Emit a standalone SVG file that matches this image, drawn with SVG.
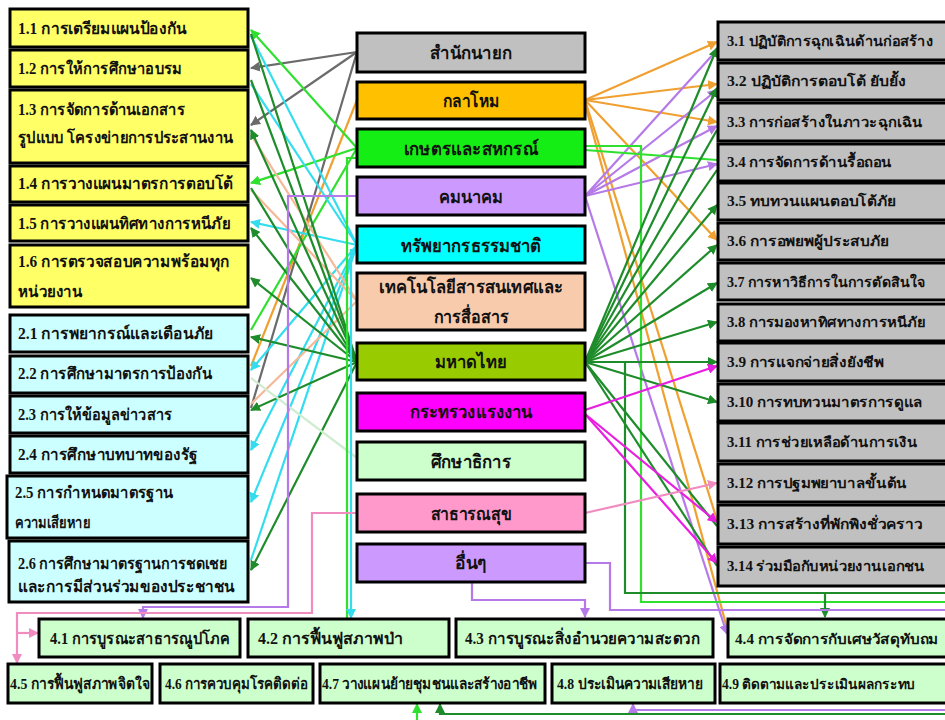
<svg xmlns="http://www.w3.org/2000/svg" width="945" height="720" viewBox="0 0 945 720">
<style>
.b{stroke:#000;stroke-width:3}
.y{fill:#ffff66}.c{fill:#ccffff}.g{fill:#c0c0c0}.l{fill:#ccffcc}
text{font-family:"Liberation Serif","DejaVu Serif",serif;font-weight:bold;fill:#111}
.t{font-size:16px}.m{font-size:18px;text-anchor:middle}.s{font-size:15px}.r{font-size:14px}
.k{fill:none;stroke-width:2.2}
.gy{stroke:#6b6b6b}.or{stroke:#f0a030}.bg{stroke:#2fe02f}.dg{stroke:#1e8c2a}.cy{stroke:#33ddee}
.pu{stroke:#b57ae8}.pe{stroke:#f5b898}.mg{stroke:#e81ee0}.pk{stroke:#f08cc0}.pg{stroke:#d0ecd0}
</style>
<defs>
<marker id="mgy" viewBox="0 0 10 10" refX="9" refY="5" markerWidth="10" markerHeight="10" markerUnits="userSpaceOnUse" orient="auto"><path d="M0,0L10,5L0,10z" fill="#6b6b6b"/></marker>
<marker id="mor" viewBox="0 0 10 10" refX="9" refY="5" markerWidth="10" markerHeight="10" markerUnits="userSpaceOnUse" orient="auto"><path d="M0,0L10,5L0,10z" fill="#f0a030"/></marker>
<marker id="mbg" viewBox="0 0 10 10" refX="9" refY="5" markerWidth="10" markerHeight="10" markerUnits="userSpaceOnUse" orient="auto"><path d="M0,0L10,5L0,10z" fill="#2fe02f"/></marker>
<marker id="mdg" viewBox="0 0 10 10" refX="9" refY="5" markerWidth="10" markerHeight="10" markerUnits="userSpaceOnUse" orient="auto"><path d="M0,0L10,5L0,10z" fill="#1e8c2a"/></marker>
<marker id="mcy" viewBox="0 0 10 10" refX="9" refY="5" markerWidth="10" markerHeight="10" markerUnits="userSpaceOnUse" orient="auto"><path d="M0,0L10,5L0,10z" fill="#33ddee"/></marker>
<marker id="mpu" viewBox="0 0 10 10" refX="9" refY="5" markerWidth="10" markerHeight="10" markerUnits="userSpaceOnUse" orient="auto"><path d="M0,0L10,5L0,10z" fill="#b57ae8"/></marker>
<marker id="mmg" viewBox="0 0 10 10" refX="9" refY="5" markerWidth="10" markerHeight="10" markerUnits="userSpaceOnUse" orient="auto"><path d="M0,0L10,5L0,10z" fill="#e81ee0"/></marker>
<marker id="mpk" viewBox="0 0 10 10" refX="9" refY="5" markerWidth="10" markerHeight="10" markerUnits="userSpaceOnUse" orient="auto"><path d="M0,0L10,5L0,10z" fill="#f08cc0"/></marker>
</defs>
<rect width="945" height="720" fill="#fff"/>
<g id="connectors" class="k">
<line class="gy" x1="357" y1="52" x2="251" y2="68" marker-end="url(#mgy)"/>
<line class="gy" x1="357" y1="52" x2="251" y2="125" marker-end="url(#mgy)"/>
<line class="gy" x1="357" y1="52" x2="251" y2="408"/>
<line class="or" x1="357" y1="100" x2="251" y2="366"/>
<line class="bg" x1="357" y1="148" x2="251" y2="30" marker-end="url(#mbg)"/>
<line class="bg" x1="357" y1="148" x2="251" y2="183" marker-end="url(#mbg)"/>
<line class="bg" x1="357" y1="148" x2="251" y2="330"/>
<line class="cy" x1="357" y1="245" x2="251" y2="36"/>
<line class="cy" x1="357" y1="245" x2="251" y2="84"/>
<line class="cy" x1="357" y1="245" x2="251" y2="222" marker-end="url(#mcy)"/>
<line class="cy" x1="357" y1="245" x2="251" y2="370" marker-end="url(#mcy)"/>
<line class="cy" x1="357" y1="245" x2="251" y2="450" marker-end="url(#mcy)"/>
<line class="cy" x1="357" y1="245" x2="251" y2="502" marker-end="url(#mcy)"/>
<line class="cy" x1="357" y1="245" x2="251" y2="560"/>
<line class="pe" x1="357" y1="301" x2="251" y2="135"/>
<line class="pe" x1="357" y1="301" x2="251" y2="190"/>
<line class="pe" x1="357" y1="301" x2="251" y2="404"/>
<line class="dg" x1="357" y1="362" x2="251" y2="34"/>
<line class="dg" x1="357" y1="362" x2="251" y2="80"/>
<line class="dg" x1="357" y1="362" x2="251" y2="130" marker-end="url(#mdg)"/>
<line class="dg" x1="357" y1="362" x2="251" y2="188"/>
<line class="dg" x1="357" y1="362" x2="251" y2="228" marker-end="url(#mdg)"/>
<line class="dg" x1="357" y1="362" x2="251" y2="278" marker-end="url(#mdg)"/>
<line class="dg" x1="357" y1="362" x2="251" y2="337" marker-end="url(#mdg)"/>
<line class="dg" x1="357" y1="362" x2="251" y2="410" marker-end="url(#mdg)"/>
<line class="dg" x1="357" y1="362" x2="251" y2="570" marker-end="url(#mdg)"/>
<line class="pg" x1="357" y1="458" x2="251" y2="378"/>
<polyline class="bg" points="357,158 347,158 347,619"/>
<polyline class="cy" points="357,250 351,250 351,618" marker-end="url(#mcy)"/>
<polyline class="pu" points="357,196 288,196 288,607 143,607 143,618" marker-end="url(#mpu)"/>
<polyline class="pk" points="357,513 312,513 312,613 17,613 17,663" marker-end="url(#mpk)"/>
<polyline class="pk" points="17,633 38,633" marker-end="url(#mpk)"/>
<line class="or" x1="585" y1="100" x2="717" y2="42" marker-end="url(#mor)"/>
<line class="or" x1="585" y1="100" x2="717" y2="84" marker-end="url(#mor)"/>
<line class="or" x1="585" y1="100" x2="717" y2="122" marker-end="url(#mor)"/>
<line class="or" x1="585" y1="100" x2="717" y2="240" marker-end="url(#mor)"/>
<line class="or" x1="585" y1="100" x2="717" y2="520"/>
<line class="or" x1="585" y1="104" x2="727" y2="628"/>
<line class="pu" x1="585" y1="196" x2="717" y2="50"/>
<line class="pu" x1="585" y1="196" x2="717" y2="90" marker-end="url(#mpu)"/>
<line class="pu" x1="585" y1="196" x2="717" y2="126" marker-end="url(#mpu)"/>
<line class="pu" x1="585" y1="196" x2="717" y2="164" marker-end="url(#mpu)"/>
<line class="pu" x1="585" y1="196" x2="727" y2="634" marker-end="url(#mpu)"/>
<line class="bg" x1="585" y1="150" x2="717" y2="160"/>
<polyline class="bg" points="585,146 641,146 641,602 945,602"/>
<line class="dg" x1="585" y1="362" x2="717" y2="48" marker-end="url(#mdg)"/>
<line class="dg" x1="585" y1="362" x2="717" y2="88" marker-end="url(#mdg)"/>
<line class="dg" x1="585" y1="362" x2="717" y2="130"/>
<line class="dg" x1="585" y1="362" x2="717" y2="170"/>
<line class="dg" x1="585" y1="362" x2="717" y2="205" marker-end="url(#mdg)"/>
<line class="dg" x1="585" y1="362" x2="717" y2="245" marker-end="url(#mdg)"/>
<line class="dg" x1="585" y1="362" x2="717" y2="283" marker-end="url(#mdg)"/>
<line class="dg" x1="585" y1="362" x2="717" y2="322" marker-end="url(#mdg)"/>
<line class="dg" x1="585" y1="362" x2="717" y2="362" marker-end="url(#mdg)"/>
<line class="dg" x1="585" y1="362" x2="717" y2="402" marker-end="url(#mdg)"/>
<line class="dg" x1="585" y1="362" x2="717" y2="526"/>
<line class="dg" x1="585" y1="362" x2="717" y2="566"/>
<polyline class="dg" points="625,362 625,593 945,593"/>
<line class="dg" x1="825" y1="593" x2="825" y2="617" marker-end="url(#mdg)"/>
<line class="mg" x1="585" y1="410" x2="717" y2="366" marker-end="url(#mmg)"/>
<line class="mg" x1="585" y1="414" x2="717" y2="522" marker-end="url(#mmg)"/>
<line class="mg" x1="585" y1="414" x2="717" y2="563" marker-end="url(#mmg)"/>
<line class="pk" x1="585" y1="513" x2="717" y2="483" marker-end="url(#mpk)"/>
<polyline class="pu" points="585,563 610,563 610,610 945,610"/>
<polyline class="pu" points="472,582 472,600 585,600 585,617" marker-end="url(#mpu)"/>
<polyline class="pu" points="945,710 633,710 633,704" marker-end="url(#mpu)"/>
<polyline class="dg" points="945,714 440,714 440,704" marker-end="url(#mdg)"/>
<line class="bg" x1="417" y1="720" x2="417" y2="704" marker-end="url(#mbg)"/>
</g>
<g id="n1-1"><rect class="b y" x="10" y="9" width="238" height="38"/><text class="t" x="18" y="34" textLength="169" lengthAdjust="spacingAndGlyphs">1.1 การเตรียมแผนป้องกัน</text></g>
<g id="n1-2"><rect class="b y" x="10" y="50" width="238" height="37"/><text class="t" x="18" y="74" textLength="164" lengthAdjust="spacingAndGlyphs">1.2 การให้การศึกษาอบรม</text></g>
<g id="n1-3"><rect class="b y" x="10" y="90" width="238" height="73"/><text class="t" x="18" y="115" textLength="167" lengthAdjust="spacingAndGlyphs">1.3 การจัดการด้านเอกสาร</text><text class="t" x="18" y="143" textLength="215" lengthAdjust="spacingAndGlyphs">รูปแบบ โครงข่ายการประสานงาน</text></g>
<g id="n1-4"><rect class="b y" x="10" y="166" width="238" height="36"/><text class="t" x="18" y="189" textLength="215" lengthAdjust="spacingAndGlyphs">1.4 การวางแผนมาตรการตอบโต้</text></g>
<g id="n1-5"><rect class="b y" x="10" y="205" width="238" height="36"/><text class="t" x="18" y="229" textLength="212" lengthAdjust="spacingAndGlyphs">1.5 การวางแผนทิศทางการหนีภัย</text></g>
<g id="n1-6"><rect class="b y" x="10" y="245" width="238" height="62"/><text class="t" x="18" y="267" textLength="212" lengthAdjust="spacingAndGlyphs">1.6 การตรวจสอบความพร้อมทุก</text><text class="t" x="18" y="297" textLength="64" lengthAdjust="spacingAndGlyphs">หน่วยงาน</text></g>
<g id="n2-1"><rect class="b c" x="10" y="315" width="238" height="37"/><text class="t" x="18" y="339" textLength="195" lengthAdjust="spacingAndGlyphs">2.1 การพยากรณ์และเตือนภัย</text></g>
<g id="n2-2"><rect class="b c" x="10" y="356" width="238" height="37"/><text class="t" x="18" y="379" textLength="194" lengthAdjust="spacingAndGlyphs">2.2 การศึกษามาตรการป้องกัน</text></g>
<g id="n2-3"><rect class="b c" x="10" y="396" width="238" height="37"/><text class="t" x="18" y="420" textLength="154" lengthAdjust="spacingAndGlyphs">2.3 การให้ข้อมูลข่าวสาร</text></g>
<g id="n2-4"><rect class="b c" x="10" y="436" width="238" height="37"/><text class="t" x="18" y="460" textLength="180" lengthAdjust="spacingAndGlyphs">2.4 การศึกษาบทบาทของรัฐ</text></g>
<g id="n2-5"><rect class="b c" x="7" y="476" width="241" height="62"/><text class="t" x="15" y="498" textLength="158" lengthAdjust="spacingAndGlyphs">2.5 การกำหนดมาตรฐาน</text><text class="t" x="15" y="528" textLength="75" lengthAdjust="spacingAndGlyphs">ความเสียหาย</text></g>
<g id="n2-6"><rect class="b c" x="9" y="541" width="239" height="61"/><text class="t" x="18" y="569" textLength="209" lengthAdjust="spacingAndGlyphs">2.6 การศึกษามาตรฐานการชดเชย</text><text class="t" x="18" y="592" textLength="217" lengthAdjust="spacingAndGlyphs">และการมีส่วนร่วมของประชาชน</text></g>
<g id="c-pm"><rect class="b" fill="#c0c0c0" x="357" y="33" width="228" height="39"/><text class="m" x="471" y="59" textLength="82" lengthAdjust="spacingAndGlyphs">สำนักนายก</text></g>
<g id="c-def"><rect class="b" fill="#ffc000" x="357" y="82" width="228" height="37"/><text class="m" x="471" y="107" textLength="57" lengthAdjust="spacingAndGlyphs">กลาโหม</text></g>
<g id="c-agr"><rect class="b" fill="#14ee14" x="357" y="129" width="228" height="38"/><text class="m" x="471" y="155" textLength="135" lengthAdjust="spacingAndGlyphs">เกษตรและสหกรณ์</text></g>
<g id="c-trn"><rect class="b" fill="#cc99ff" x="357" y="177" width="228" height="38"/><text class="m" x="471" y="203" textLength="64" lengthAdjust="spacingAndGlyphs">คมนาคม</text></g>
<g id="c-nat"><rect class="b" fill="#00ffff" x="357" y="226" width="228" height="37"/><text class="m" x="471" y="252" textLength="141" lengthAdjust="spacingAndGlyphs">ทรัพยากรธรรมชาติ</text></g>
<g id="c-ict"><rect class="b" fill="#f8cbad" x="357" y="273" width="228" height="57"/><text class="m" x="471" y="293" textLength="184" lengthAdjust="spacingAndGlyphs">เทคโนโลยีสารสนเทศและ</text><text class="m" x="471" y="323" textLength="75" lengthAdjust="spacingAndGlyphs">การสื่อสาร</text></g>
<g id="c-int"><rect class="b" fill="#99cc00" x="357" y="343" width="228" height="37"/><text class="m" x="471" y="368" textLength="72" lengthAdjust="spacingAndGlyphs">มหาดไทย</text></g>
<g id="c-lab"><rect class="b" fill="#ff00ff" x="357" y="393" width="228" height="38"/><text class="m" x="471" y="418" textLength="123" lengthAdjust="spacingAndGlyphs">กระทรวงแรงงาน</text></g>
<g id="c-edu"><rect class="b" fill="#ccffcc" x="357" y="442" width="228" height="38"/><text class="m" x="471" y="468" textLength="80" lengthAdjust="spacingAndGlyphs">ศึกษาธิการ</text></g>
<g id="c-hea"><rect class="b" fill="#ff99cc" x="357" y="494" width="228" height="38"/><text class="m" x="471" y="520" textLength="81" lengthAdjust="spacingAndGlyphs">สาธารณสุข</text></g>
<g id="c-oth"><rect class="b" fill="#cc99ff" x="357" y="544" width="228" height="38"/><text class="m" x="471" y="569" textLength="32" lengthAdjust="spacingAndGlyphs">อื่นๆ</text></g>
<g id="n3-1"><rect class="b g" x="718" y="22" width="240" height="38"/><text class="t r" x="727" y="46" textLength="206" lengthAdjust="spacingAndGlyphs">3.1 ปฏิบัติการฉุกเฉินด้านก่อสร้าง</text></g>
<g id="n3-2"><rect class="b g" x="718" y="63" width="240" height="37"/><text class="t r" x="727" y="86" textLength="179" lengthAdjust="spacingAndGlyphs">3.2 ปฏิบัติการตอบโต้  ยับยั้ง</text></g>
<g id="n3-3"><rect class="b g" x="718" y="103" width="240" height="38"/><text class="t r" x="727" y="127" textLength="196" lengthAdjust="spacingAndGlyphs">3.3 การก่อสร้างในภาวะฉุกเฉิน</text></g>
<g id="n3-4"><rect class="b g" x="718" y="144" width="240" height="37"/><text class="t r" x="727" y="167" textLength="165" lengthAdjust="spacingAndGlyphs">3.4 การจัดการด้านรื้อถอน</text></g>
<g id="n3-5"><rect class="b g" x="718" y="183" width="240" height="37"/><text class="t r" x="727" y="206" textLength="169" lengthAdjust="spacingAndGlyphs">3.5 ทบทวนแผนตอบโต้ภัย</text></g>
<g id="n3-6"><rect class="b g" x="718" y="223" width="240" height="37"/><text class="t r" x="727" y="246" textLength="162" lengthAdjust="spacingAndGlyphs">3.6 การอพยพผู้ประสบภัย</text></g>
<g id="n3-7"><rect class="b g" x="718" y="263" width="240" height="37"/><text class="t r" x="727" y="287" textLength="198" lengthAdjust="spacingAndGlyphs">3.7 การหาวิธีการในการตัดสินใจ</text></g>
<g id="n3-8"><rect class="b g" x="718" y="304" width="240" height="37"/><text class="t r" x="727" y="327" textLength="198" lengthAdjust="spacingAndGlyphs">3.8 การมองหาทิศทางการหนีภัย</text></g>
<g id="n3-9"><rect class="b g" x="718" y="343" width="240" height="38"/><text class="t r" x="727" y="367" textLength="157" lengthAdjust="spacingAndGlyphs">3.9 การแจกจ่ายสิ่งยังชีพ</text></g>
<g id="n3-10"><rect class="b g" x="718" y="384" width="240" height="37"/><text class="t r" x="727" y="407" textLength="196" lengthAdjust="spacingAndGlyphs">3.10 การทบทวนมาตรการดูแล</text></g>
<g id="n3-11"><rect class="b g" x="718" y="423" width="240" height="38"/><text class="t r" x="727" y="447" textLength="190" lengthAdjust="spacingAndGlyphs">3.11 การช่วยเหลือด้านการเงิน</text></g>
<g id="n3-12"><rect class="b g" x="718" y="464" width="240" height="38"/><text class="t r" x="727" y="488" textLength="180" lengthAdjust="spacingAndGlyphs">3.12 การปฐมพยาบาลขั้นต้น</text></g>
<g id="n3-13"><rect class="b g" x="718" y="505" width="240" height="39"/><text class="t r" x="727" y="529" textLength="196" lengthAdjust="spacingAndGlyphs">3.13 การสร้างที่พักพิงชั่วคราว</text></g>
<g id="n3-14"><rect class="b g" x="718" y="547" width="240" height="39"/><text class="t r" x="727" y="571" textLength="198" lengthAdjust="spacingAndGlyphs">3.14 ร่วมมือกับหน่วยงานเอกชน</text></g>
<g id="n4-1"><rect class="b l" x="39" y="619" width="201" height="38"/><text class="t" x="50" y="644" textLength="180" lengthAdjust="spacingAndGlyphs">4.1 การบูรณะสาธารณูปโภค</text></g>
<g id="n4-2"><rect class="b l" x="248" y="619" width="201" height="38"/><text class="t" x="258" y="644" textLength="145" lengthAdjust="spacingAndGlyphs">4.2  การฟื้นฟูสภาพป่า</text></g>
<g id="n4-3"><rect class="b l" x="456" y="619" width="257" height="38"/><text class="t" x="465" y="644" textLength="235" lengthAdjust="spacingAndGlyphs">4.3 การบูรณะสิ่งอำนวยความสะดวก</text></g>
<g id="n4-4"><rect class="b l" x="728" y="619" width="230" height="38"/><text class="t r" x="735" y="644" textLength="203" lengthAdjust="spacingAndGlyphs">4.4 การจัดการกับเศษวัสดุทับถม</text></g>
<g id="n4-5"><rect class="b l" x="8" y="664" width="144" height="39"/><text class="s" x="10" y="689" textLength="140" lengthAdjust="spacingAndGlyphs">4.5 การฟื้นฟูสภาพจิตใจ</text></g>
<g id="n4-6"><rect class="b l" x="160" y="664" width="153" height="39"/><text class="s" x="165" y="689" textLength="143" lengthAdjust="spacingAndGlyphs">4.6 การควบคุมโรคติดต่อ</text></g>
<g id="n4-7"><rect class="b l" x="320" y="664" width="225" height="39"/><text class="s" x="322" y="689" textLength="215" lengthAdjust="spacingAndGlyphs">4.7 วางแผนย้ายชุมชนและสร้างอาชีพ</text></g>
<g id="n4-8"><rect class="b l" x="552" y="664" width="163" height="39"/><text class="s" x="557" y="689" textLength="146" lengthAdjust="spacingAndGlyphs">4.8 ประเมินความเสียหาย</text></g>
<g id="n4-9"><rect class="b l" x="720" y="664" width="240" height="39"/><text class="s r" x="722" y="689" textLength="193" lengthAdjust="spacingAndGlyphs">4.9 ติดตามและประเมินผลกระทบ</text></g>
</svg>
